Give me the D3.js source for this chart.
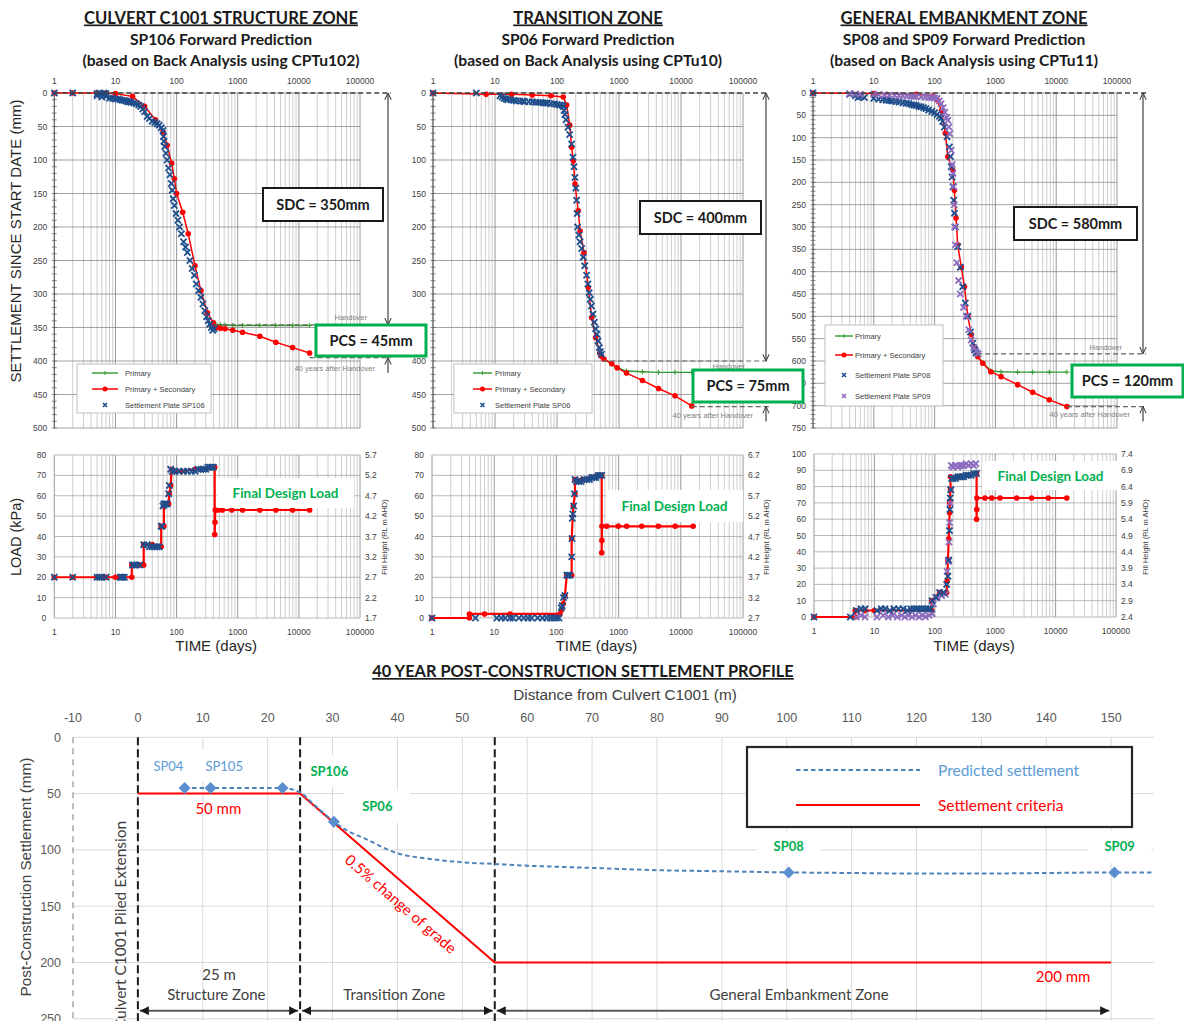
<!DOCTYPE html>
<html lang="en">
<head>
<meta charset="utf-8" />
<title>Settlement forward predictions and 40 year post-construction profile</title>
<script src="https://d3js.org/d3.v7.min.js"></script>
<style>
  body { margin: 0; background: #fff; }
  svg  { display: block; font-family: "Liberation Sans", Arial, sans-serif; }
  .head   { font-family: Lato, "Open Sans", sans-serif; font-weight: 700; fill: #1a1a1a; text-anchor: middle; }
  .tick   { font-size: 8.5px; fill: #404040; }
  .note   { font-size: 7.5px; fill: #7f7f7f; }
  .leg    { font-size: 7.5px; fill: #404040; }
  .cal    { font-family: Lato, "Open Sans", sans-serif; }
</style>
</head>
<body>
<svg id="chart" width="1184" height="1021"></svg>

<script>
/* ---------------- data ---------------- */
const timeTicks    = [1, 10, 100, 1000, 10000, 100000];
const settleTicks5 = [0, 50, 100, 150, 200, 250, 300, 350, 400, 450, 500];
const settleTicks7 = [0, 50, 100, 150, 200, 250, 300, 350, 400, 450, 500, 550, 600, 650, 700, 750];
const loadTicks80  = [0, 10, 20, 30, 40, 50, 60, 70, 80];
const loadTicks100 = [0, 10, 20, 30, 40, 50, 60, 70, 80, 90, 100];
const fillTicksA   = [1.7, 2.2, 2.7, 3.2, 3.7, 4.2, 4.7, 5.2, 5.7];
const fillTicksB   = [2.7, 3.2, 3.7, 4.2, 4.7, 5.2, 5.7, 6.2, 6.7];
const fillTicksC   = [2.4, 2.9, 3.4, 3.9, 4.4, 4.9, 5.4, 5.9, 6.4, 6.9, 7.4];

// [day, settlement mm]
const sp106PrimSec = [[1,0],[2,0],[5,0],[7,0],[10,1],[19,5],[30,20],[45,40],[60,58],[70,78],[83,105],[92,128],[100,150],[126,178],[155,210],[200,258],[250,295],[320,328],[400,343],[420,350],[460,350],[520,351],[620,352],[830,354],[1200,357],[2300,363],[4200,372],[7900,380],[15000,388]];
const sp106Primary = [[420,346],[460,346],[520,346],[620,346],[830,347],[1200,347],[2300,347],[4200,347],[7900,347],[15000,347]];
const sp106Plate   = [[1,0],[2,0],[5,1],[5.5,0],[6,2],[6.5,0],[7,1],[5,4],[6,6],[7,5],[8,8],[9,8],[10,9],[11,9],[12,10],[13,11],[14,11],[15,12],[16,13],[17,13],[18,14],[20,15],[22,16],[24,18],[26,20],[28,24],[30,28],[33,35],[36,38],[40,42],[44,44],[48,46],[52,48],[56,52],[60,56],[61,65],[62,72],[64,80],[67,90],[70,100],[74,112],[78,122],[82,135],[85,145],[88,158],[92,168],[98,180],[105,190],[112,200],[120,210],[130,222],[140,230],[150,238],[165,250],[180,262],[195,272],[210,285],[230,295],[250,305],[270,315],[290,325],[310,334],[330,340],[350,345],[370,350],[390,354],[410,352]];

const sp06PrimSec = [[1,0],[7.2,2],[18.6,2],[40,3],[80,4],[126,6],[143,18],[160,48],[172,81],[183,101],[195,136],[220,176],[236,206],[272,238],[320,290],[362,335],[420,365],[490,388],[520,393],[570,397],[765,404],[935,410],[1320,418],[2390,429],[4340,441],[8000,452],[14900,467]];
const sp06Primary = [[520,393],[570,397],[765,405],[935,410],[1320,415],[2390,416],[4340,417],[8000,417],[14900,417]];
const sp06Plate   = [[1,0],[5,0],[12,4],[13,6],[14,8],[15,9],[16,10],[18,10],[20,11],[22,12],[25,12],[28,12],[30,13],[35,13],[40,13],[45,14],[50,14],[55,14],[60,15],[65,15],[70,15],[80,16],[90,16],[100,17],[110,18],[120,18],[126,20],[130,26],[134,32],[140,40],[150,51],[160,62],[172,76],[181,96],[188,110],[195,126],[201,142],[207,160],[211,180],[215,200],[225,212],[235,222],[250,232],[265,245],[280,258],[300,272],[315,285],[330,298],[345,308],[360,318],[380,330],[400,342],[420,352],[440,360],[460,370],[480,380],[500,386],[520,390]];

const sp08PrimSec = [[1,0],[10,1],[50,3],[94,7],[110,15],[130,40],[150,90],[165,143],[199,173],[212,218],[225,280],[240,340],[275,390],[310,434],[352,500],[400,540],[450,568],[510,590],[620,605],[840,624],[1240,635],[2320,653],[4100,670],[7700,687],[15000,702]];
const sp08Primary = [[510,590],[620,604],[840,622],[1240,624],[2320,625],[4100,625],[7700,625],[15000,625]];
const sp08Plate   = [[1,0],[4,3],[5,6],[6,8],[7,10],[5.5,10],[10,12],[12,14],[14,15],[16,16],[18,17],[20,18],[23,19],[26,20],[30,22],[34,23],[38,24],[42,26],[46,27],[50,28],[55,30],[60,31],[66,33],[72,35],[80,38],[90,41],[100,44],[110,48],[120,52],[128,56],[136,64],[145,76],[160,98],[175,121],[182,142],[188,165],[194,188],[200,210],[206,240],[212,269],[220,300],[240,344],[265,390],[290,434],[320,470],[352,500],[390,535],[425,560],[455,575],[480,582]];
const sp09Plate   = [[4,1],[5,2],[6,3],[10,3],[12,4],[15,4],[18,5],[22,5],[26,6],[30,6],[35,7],[40,7],[45,8],[50,8],[60,9],[70,9],[80,10],[90,10],[100,11],[110,12],[120,18],[128,24],[138,33],[148,43],[158,55],[165,61],[172,76],[178,91],[188,128],[195,160],[200,180],[206,210],[210,250],[214,300],[220,340],[232,380],[248,420],[265,450],[300,480],[330,500],[365,530],[400,553],[440,570],[480,578],[520,584]];

// [day, kPa]
const sp106LoadRed   = [[1,20],[2,20],[5,20],[6,20],[7,20],[10,20],[12,20],[13,20],[18.5,20],[18.5,26],[22,26],[25,26],[29,26],[29,36],[40,36],[50,35],[56,35],[56,45],[62,45],[62,55],[70,56],[74,56],[76,61],[80,65],[83,73],[90,72],[120,72],[200,73],[300,73],[400,74],[420,74],[420,41],[425,47],[430,53],[480,53],[560,53],[800,53],[1200,53],[2300,53],[4200,53],[7900,53],[15000,53]];
const sp106LoadPlate = [[1,20],[2,20],[5,20],[5.5,20],[6,20],[7,20],[12,20],[12.5,20],[13,20],[14,20],[19,26],[20,26],[22,26],[25,26],[29,36],[33,36],[36,35],[40,35],[44,35],[48,35],[52,35],[56,45],[58,45],[60,55],[62,56],[64,56],[66,56],[70,56],[74,61],[76,65],[80,73],[85,72],[95,72],[110,72],[130,72],[150,72],[175,72],[200,72],[225,73],[250,73],[275,73],[300,73],[325,74],[350,74],[375,74],[400,74]];
const sp06LoadRed    = [[1,0],[4,0],[4,2],[7,2],[18,2],[114,2],[121,4],[129,7],[137,11],[147,21],[176,21],[176,39],[187,55],[199,61],[199,68],[260,68],[360,69],[460,70],[535,70],[535,32],[538,38],[540,45],[645,45],[990,45],[1350,45],[2350,45],[4350,45],[8100,45],[15800,45]];
const sp06LoadPlate  = [[1,0],[5,0],[11,0],[13,0],[15,0],[18,0],[20,0],[25,0],[30,0],[35,0],[40,0],[50,0],[60,0],[70,0],[80,0],[90,0],[100,0],[110,0],[120,5],[124,6],[130,10],[137,11],[147,21],[155,21],[165,21],[176,30],[178,39],[180,49],[184,51],[190,55],[195,61],[199,68],[210,67],[230,67],[250,67],[280,68],[310,68],[340,68],[370,69],[400,69],[430,69],[470,70],[510,70],[535,70]];
const sp08LoadRed    = [[1,0],[4.8,0],[4.8,4],[7,4],[10,4],[89,4],[89,10],[120,15],[157,15],[160,22],[165,35],[170,48],[176,64],[176,70],[182,78],[182,86],[250,86],[350,87],[492,88],[492,60],[495,66],[497,73],[676,73],[876,73],[1200,73],[2270,73],[4000,73],[7580,73],[15300,73]];
const sp08LoadPlate  = [[1,0],[4,0],[5,4],[6,5],[7,5],[11,4],[13,5],[15,5],[18,4],[21,5],[25,5],[30,5],[35,4],[40,5],[45,5],[50,5],[55,5],[62,5],[70,5],[78,5],[86,5],[90,10],[105,12],[120,15],[140,15],[157,20],[165,25],[170,35],[175,53],[178,66],[180,73],[184,78],[190,85],[200,85],[220,85],[240,86],[260,86],[280,86],[300,86],[330,87],[360,87],[400,87],[440,88],[490,88]];
const sp09LoadPlate  = [[5,0],[6,1],[7,0],[11,0],[14,1],[17,0],[20,1],[24,0],[28,1],[32,0],[37,1],[42,0],[48,1],[55,0],[62,1],[70,0],[80,1],[90,2],[95,8],[110,12],[130,13],[150,14],[160,28],[168,34],[172,46],[176,58],[180,70],[184,78],[188,93],[200,92],[220,93],[240,92],[260,93],[280,93],[300,93],[330,94],[360,93],[400,94],[440,93],[480,94]];

// handover and 40-years-after-handover levels per zone [day, mm]
const handover  = [[420, 346], [535, 400], [500, 584]];
const fortyYear = [[15000, 395], [14900, 468], [15000, 702]];

// profile: [distance m, settlement mm]
const distTicks    = [-10, 0, 10, 20, 30, 40, 50, 60, 70, 80, 90, 100, 110, 120, 130, 140, 150];
const profileTicks = [0, 50, 100, 150, 200, 250];
const criteria     = [[0,50],[25,50],[55,200],[150,200]];
const predicted    = [[7.2,45],[11.2,45],[22.3,45],[25,49],[27,59],[30.2,75],[32,82],[35,90],[40,103],[45,108],[50,111],[55,112.5],[60,114],[70,116],[80,118],[90,119],[100.3,120],[110,120.5],[120,121],[130,121],[140,120.5],[150.5,120],[156.6,120]];
const plates       = [[7.2,45],[11.2,45],[22.3,45],[30.2,75],[100.3,120],[150.5,120]];
const zoneBounds   = [0, 25, 55];
const zoneSpans    = [[0,25],[25,55],[55,150]];

/* ---------------- setup ---------------- */
const svg  = d3.select("#chart");
const defs = svg.append("defs");
const base = svg.append("g");
const over = svg.append("g");

defs.append("marker").attr("id", "openArrow")
    .attr("viewBox", "0 0 10 10").attr("refX", 9.5).attr("refY", 5)
    .attr("markerUnits", "userSpaceOnUse").attr("markerWidth", 8).attr("markerHeight", 8)
    .attr("orient", "auto-start-reverse")
  .append("path").attr("d", "M1,1L9.5,5L1,9").attr("fill", "none")
    .attr("stroke", "#404040").attr("stroke-width", 1.3);

defs.append("marker").attr("id", "solidArrow")
    .attr("viewBox", "0 0 10 10").attr("refX", 10).attr("refY", 5)
    .attr("markerUnits", "userSpaceOnUse").attr("markerWidth", 9).attr("markerHeight", 9)
    .attr("orient", "auto-start-reverse")
  .append("path").attr("d", "M0,0L10,5L0,10Z").attr("fill", "#1a1a1a");

const RED = "#ff0000", GREEN = "#2f9a2f", BLUE = "#1f4e8c", PURPLE = "#8d6cc0";

function xPath(r) { return `M${-r},${-r}L${r},${r}M${r},${-r}L${-r},${r}`; }

function logGrid(g, x, yTop, yBot) {
  g.append("g").selectAll("line").data(x.ticks()).join("line")
    .attr("x1", d => x(d)).attr("x2", d => x(d))
    .attr("y1", yTop).attr("y2", yBot)
    .attr("stroke", d => timeTicks.includes(d) ? "#8c8c8c" : "#b8b8b8")
    .attr("stroke-width", d => timeTicks.includes(d) ? 0.9 : 0.7);
}

function drawSeries(g, x, y, p) {
  const line = d3.line().x(d => x(d[0])).y(d => y(d[1]));
  if (p.primary) {
    g.append("path").attr("d", line(p.primary)).attr("fill", "none")
      .attr("stroke", GREEN).attr("stroke-width", 1.4);
    g.append("g").selectAll("path").data(p.primary).join("path")
      .attr("transform", d => `translate(${x(d[0])},${y(d[1])})`)
      .attr("d", "M0,-2.5V2.5M-2.5,0H2.5").attr("stroke", GREEN).attr("stroke-width", 1);
  }
  g.append("path").attr("d", line(p.red)).attr("fill", "none")
    .attr("stroke", RED).attr("stroke-width", p.redW || 1.5);
  g.append("g").selectAll("circle").data(p.red).join("circle")
    .attr("cx", d => x(d[0])).attr("cy", d => y(d[1])).attr("r", 2.8).attr("fill", RED);
  p.plates.forEach(pl => {
    g.append("g").selectAll("path").data(pl.pts).join("path")
      .attr("transform", d => `translate(${x(d[0])},${y(d[1])})`)
      .attr("d", xPath(3.1)).attr("stroke", pl.color).attr("stroke-width", 1.8).attr("fill", "none");
  });
}

/* ---------------- settlement panels ---------------- */
const topPanels = [
  { x0: 54.3, x1: 360, sMax: 500, sTicks: settleTicks5, cx: 221, arrowX: 388,
    red: sp106PrimSec, primary: sp106Primary, hand: handover[0], end: fortyYear[0],
    plates: [{ pts: sp106Plate, color: BLUE, label: "Settlement Plate SP106" }],
    title: ["CULVERT C1001 STRUCTURE ZONE", "SP106 Forward Prediction", "(based on Back Analysis using CPTu102)"],
    sdc: { x: 263, y: 188, w: 120, h: 33, text: "SDC = 350mm" },
    pcs: { x: 316, y: 325, w: 110, h: 31, text: "PCS = 45mm" },
    hoDy: -5, eyDy: 13,
    legend: { x: 77, y: 364, w: 134, h: 49, lx0: 15, lx1: 41, tx: 48, rows: [9, 25, 41] } },
  { x0: 433, x1: 743, sMax: 500, sTicks: settleTicks5, cx: 588, arrowX: 766,
    red: sp06PrimSec, primary: sp06Primary, hand: handover[1], end: fortyYear[1],
    plates: [{ pts: sp06Plate, color: BLUE, label: "Settlement Plate SP06" }],
    title: ["TRANSITION ZONE", "SP06 Forward Prediction", "(based on Back Analysis using CPTu10)"],
    sdc: { x: 640, y: 201, w: 121, h: 33, text: "SDC = 400mm" },
    pcs: { x: 693, y: 370, w: 110, h: 32, text: "PCS = 75mm" },
    hoDy: 8, eyDy: 11,
    legend: { x: 454, y: 364, w: 138, h: 49, lx0: 19, lx1: 38, tx: 41, rows: [9, 25, 41] } },
  { x0: 813, x1: 1117, sMax: 750, sTicks: settleTicks7, cx: 964, arrowX: 1143,
    red: sp08PrimSec, primary: sp08Primary, hand: handover[2], end: fortyYear[2],
    plates: [{ pts: sp08Plate, color: BLUE, label: "Settlement Plate SP08" },
             { pts: sp09Plate, color: PURPLE, label: "Settlement Plate SP09" }],
    title: ["GENERAL EMBANKMENT ZONE", "SP08 and SP09 Forward Prediction", "(based on Back Analysis using CPTu11)"],
    sdc: { x: 1014, y: 207, w: 123, h: 33, text: "SDC = 580mm" },
    pcs: { x: 1072, y: 365, w: 111, h: 32, text: "PCS = 120mm" },
    hoDy: -4, eyDy: 10,
    legend: { x: 825, y: 325, w: 118, h: 81, lx0: 10, lx1: 28, tx: 30, rows: [11, 30, 50, 71] } }
];

topPanels.forEach(p => {
  const x = d3.scaleLog().domain([1, 100000]).range([p.x0, p.x1]);
  const y = d3.scaleLinear().domain([0, p.sMax]).range([93, 428]);
  const g = base.append("g");

  // headings
  g.append("text").attr("class", "head").attr("x", p.cx).attr("y", 23.5)
    .attr("font-size", 16.6).style("text-decoration", "underline").text(p.title[0]);
  g.append("text").attr("class", "head").attr("x", p.cx).attr("y", 44.5)
    .attr("font-size", 15.6).text(p.title[1]);
  g.append("text").attr("class", "head").attr("x", p.cx).attr("y", 66)
    .attr("font-size", 15.6).text(p.title[2]);

  logGrid(g, x, 93, 428);
  g.append("g").selectAll("line").data(p.sTicks).join("line")
    .attr("x1", p.x0).attr("x2", p.x1).attr("y1", d => y(d)).attr("y2", d => y(d))
    .attr("stroke", "#8c8c8c").attr("stroke-width", 0.8);
  g.append("line").attr("x1", p.x0).attr("x2", p.x0).attr("y1", 93).attr("y2", 428)
    .attr("stroke", "#595959").attr("stroke-width", 1);
  g.append("g").selectAll("line").data(y.ticks(p.sMax / 10)).join("line")
    .attr("x1", p.x0 - 2.5).attr("x2", p.x0 + 2.5).attr("y1", d => y(d)).attr("y2", d => y(d))
    .attr("stroke", "#595959").attr("stroke-width", 0.7);

  g.append("g").selectAll("text").data(timeTicks).join("text").attr("class", "tick")
    .attr("x", d => x(d)).attr("y", 84).attr("text-anchor", "middle").text(d => d);
  g.append("g").selectAll("text").data(p.sTicks).join("text").attr("class", "tick")
    .attr("x", p.x0 - 7).attr("y", d => y(d) + 3).attr("text-anchor", "end").text(d => d);

  drawSeries(g, x, y, p);

  // dimension lines
  const yH = y(p.hand[1]), yE = y(p.end[1]);
  g.append("line").attr("x1", p.x0).attr("x2", p.arrowX + 3).attr("y1", y(0)).attr("y2", y(0))
    .attr("stroke", "#404040").attr("stroke-width", 1.3).attr("stroke-dasharray", "5 3");
  g.append("line").attr("x1", x(p.hand[0])).attr("x2", p.arrowX + 3).attr("y1", yH).attr("y2", yH)
    .attr("stroke", "#666").attr("stroke-width", 1.2).attr("stroke-dasharray", "5 3");
  g.append("line").attr("x1", x(p.end[0])).attr("x2", p.arrowX + 3).attr("y1", yE).attr("y2", yE)
    .attr("stroke", "#666").attr("stroke-width", 1.2).attr("stroke-dasharray", "5 3");
  g.append("text").attr("class", "note").attr("x", p.arrowX - 21).attr("y", yH + p.hoDy)
    .attr("text-anchor", "end").text("Handover");
  g.append("text").attr("class", "note").attr("x", p.arrowX - 13).attr("y", yE + p.eyDy)
    .attr("text-anchor", "end").text("40 years after Handover");

  // boxes, arrows, legend on top
  const o = over.append("g");
  o.append("line").attr("x1", p.arrowX).attr("x2", p.arrowX).attr("y1", y(0)).attr("y2", yH)
    .attr("stroke", "#404040").attr("stroke-width", 1.2)
    .attr("marker-start", "url(#openArrow)").attr("marker-end", "url(#openArrow)");
  o.append("line").attr("x1", p.arrowX).attr("x2", p.arrowX).attr("y1", yE + 15).attr("y2", yE)
    .attr("stroke", "#404040").attr("stroke-width", 1.2).attr("marker-end", "url(#openArrow)");

  [[p.sdc, "#1a1a1a", 2], [p.pcs, "#00b050", 3]].forEach(([b, col, w]) => {
    o.append("rect").attr("x", b.x).attr("y", b.y).attr("width", b.w).attr("height", b.h)
      .attr("fill", "#fff").attr("stroke", col).attr("stroke-width", w);
    o.append("text").attr("class", "head").attr("x", b.x + b.w / 2).attr("y", b.y + b.h / 2 + 5)
      .attr("font-size", 14.5).text(b.text);
  });

  const L = p.legend;
  o.append("rect").attr("x", L.x).attr("y", L.y).attr("width", L.w).attr("height", L.h)
    .attr("fill", "#fff").attr("stroke", "#bfbfbf").attr("stroke-width", 1);
  const rows = [{ k: "prim", t: "Primary" }, { k: "red", t: "Primary + Secondary" }]
    .concat(p.plates.map(pl => ({ k: "plate", t: pl.label, c: pl.color })));
  rows.forEach((r, i) => {
    const yy = L.y + L.rows[i], xa = L.x + L.lx0, xb = L.x + L.lx1, xm = (xa + xb) / 2;
    if (r.k === "prim") {
      o.append("line").attr("x1", xa).attr("x2", xb).attr("y1", yy).attr("y2", yy).attr("stroke", GREEN).attr("stroke-width", 1.4);
      o.append("path").attr("transform", `translate(${xm},${yy})`).attr("d", "M0,-2V2").attr("stroke", GREEN);
    } else if (r.k === "red") {
      o.append("line").attr("x1", xa).attr("x2", xb).attr("y1", yy).attr("y2", yy).attr("stroke", RED).attr("stroke-width", 1.5);
      o.append("circle").attr("cx", xm).attr("cy", yy).attr("r", 2.5).attr("fill", RED);
    } else {
      o.append("path").attr("transform", `translate(${xm},${yy})`).attr("d", xPath(2))
        .attr("stroke", r.c).attr("stroke-width", 1.6);
    }
    o.append("text").attr("class", "leg").attr("x", L.x + L.tx).attr("y", yy + 2.7).text(r.t);
  });
});

base.append("text").attr("transform", "translate(21,241) rotate(-90)")
  .attr("text-anchor", "middle").attr("font-size", 15).attr("fill", "#262626")
  .text("SETTLEMENT SINCE START DATE (mm)");

/* ---------------- load panels ---------------- */
const loadPanels = [
  { x0: 54.3, x1: 360, yT: 455, yB: 618, lMax: 80, lTicks: loadTicks80, fTicks: fillTicksA, fillX: 387,
    red: sp106LoadRed, plates: [{ pts: sp106LoadPlate, color: BLUE }], redW: 2.2,
    fdl: { x: 217, y: 478, w: 137, h: 30 } },
  { x0: 432, x1: 743, yT: 455, yB: 618, lMax: 80, lTicks: loadTicks80, fTicks: fillTicksB, fillX: 769,
    red: sp06LoadRed, plates: [{ pts: sp06LoadPlate, color: BLUE }], redW: 2.2,
    fdl: { x: 606, y: 490, w: 137, h: 32 } },
  { x0: 814, x1: 1116, yT: 454, yB: 617, lMax: 100, lTicks: loadTicks100, fTicks: fillTicksC, fillX: 1148,
    red: sp08LoadRed, plates: [{ pts: sp09LoadPlate, color: PURPLE }, { pts: sp08LoadPlate, color: BLUE }], redW: 2.2,
    fdl: { x: 982, y: 461, w: 137, h: 29 } }
];

loadPanels.forEach(p => {
  const x = d3.scaleLog().domain([1, 100000]).range([p.x0, p.x1]);
  const y = d3.scaleLinear().domain([0, p.lMax]).range([p.yB, p.yT]);
  const yF = d3.scaleLinear().domain([p.fTicks[0], p.fTicks[p.fTicks.length - 1]]).range([p.yB, p.yT]);
  const g = base.append("g");

  logGrid(g, x, p.yT, p.yB);
  g.append("g").selectAll("line").data(p.lTicks).join("line")
    .attr("x1", p.x0).attr("x2", p.x1).attr("y1", d => y(d)).attr("y2", d => y(d))
    .attr("stroke", "#a6a6a6").attr("stroke-width", 0.8);

  g.append("g").selectAll("text").data(timeTicks).join("text").attr("class", "tick")
    .attr("x", d => x(d)).attr("y", p.yB + 17).attr("text-anchor", "middle").text(d => d);
  g.append("g").selectAll("text").data(p.lTicks).join("text").attr("class", "tick")
    .attr("x", p.x0 - 8).attr("y", d => y(d) + 3).attr("text-anchor", "end").text(d => d);
  g.append("g").selectAll("text").data(p.fTicks).join("text").attr("class", "tick")
    .attr("x", p.x1 + 5).attr("y", d => yF(d) + 3).text(d => d.toFixed(1));

  g.append("text").attr("transform", `translate(${p.fillX},537) rotate(-90)`)
    .attr("text-anchor", "middle").attr("font-size", 7.5).attr("fill", "#404040")
    .text("Fill Height (RL m AHD)");
  g.append("text").attr("x", (p.x0 + p.x1) / 2 + 9).attr("y", 651).attr("text-anchor", "middle")
    .attr("font-size", 15).attr("fill", "#262626").text("TIME (days)");

  drawSeries(g, x, y, p);

  g.append("rect").attr("x", p.fdl.x).attr("y", p.fdl.y).attr("width", p.fdl.w).attr("height", p.fdl.h).attr("fill", "#fff");
  g.append("text").attr("class", "head").attr("x", p.fdl.x + p.fdl.w / 2).attr("y", p.fdl.y + p.fdl.h / 2 + 5)
    .attr("font-size", 13.5).style("fill", "#00b050").text("Final Design Load");
});

base.append("text").attr("transform", "translate(21,537) rotate(-90)")
  .attr("text-anchor", "middle").attr("font-size", 14.5).attr("fill", "#262626").text("LOAD (kPa)");

/* ---------------- 40 year profile ---------------- */
const xD = d3.scaleLinear().domain([-10, 156.6]).range([73, 1154]);
const yD = d3.scaleLinear().domain([0, 250]).range([737.3, 1018.8]);
const pg = base.append("g");

pg.append("text").attr("class", "head").attr("x", 583).attr("y", 677).attr("font-size", 16.4)
  .style("text-decoration", "underline").text("40 YEAR POST-CONSTRUCTION SETTLEMENT PROFILE");
pg.append("text").attr("x", 625).attr("y", 700).attr("text-anchor", "middle")
  .attr("font-size", 15.3).attr("fill", "#404040").text("Distance from Culvert C1001 (m)");

pg.append("g").selectAll("line").data(distTicks.slice(1)).join("line")
  .attr("x1", d => xD(d)).attr("x2", d => xD(d)).attr("y1", yD(0)).attr("y2", 1021)
  .attr("stroke", "#d9d9d9").attr("stroke-width", 1);
pg.append("g").selectAll("line").data(profileTicks).join("line")
  .attr("x1", xD(-10)).attr("x2", 1154).attr("y1", d => yD(d)).attr("y2", d => yD(d))
  .attr("stroke", "#d9d9d9").attr("stroke-width", 1);
pg.append("line").attr("x1", xD(-10)).attr("x2", xD(-10)).attr("y1", yD(0)).attr("y2", 1021)
  .attr("stroke", "#a6a6a6").attr("stroke-width", 1.5).attr("stroke-dasharray", "6 5");

pg.append("g").selectAll("text").data(distTicks).join("text")
  .attr("x", d => xD(d)).attr("y", 722).attr("text-anchor", "middle")
  .attr("font-size", 12.5).attr("fill", "#595959").text(d => d);
pg.append("g").selectAll("text").data(profileTicks).join("text")
  .attr("x", 61).attr("y", d => yD(d) + 4.5).attr("text-anchor", "end")
  .attr("font-size", 12.5).attr("fill", "#595959").text(d => d);
pg.append("text").attr("transform", "translate(31,877) rotate(-90)").attr("text-anchor", "middle")
  .attr("font-size", 15.3).attr("fill", "#404040").text("Post-Construction Settlement (mm)");

// white label backgrounds
const spLabels = [
  { t: "SP04",  d: 4.7,   s: 25.5, c: "#5b9bd5", b: false, w: 48 },
  { t: "SP105", d: 13.3,  s: 25.5, c: "#5b9bd5", b: false, w: 50 },
  { t: "SP106", d: 29.5,  s: 30,   c: "#00b050", b: true,  w: 52 },
  { t: "SP06",  d: 36.9,  s: 61.6, c: "#00b050", b: true,  w: 66 },
  { t: "SP08",  d: 100.3, s: 97.4, c: "#00b050", b: true,  w: 64 },
  { t: "SP09",  d: 151.3, s: 97.4, c: "#00b050", b: true,  w: 64 }
];
spLabels.forEach(l => {
  pg.append("rect").attr("x", xD(l.d) - l.w / 2).attr("y", yD(l.s) - 16).attr("width", l.w).attr("height", 32).attr("fill", "#fff");
});

pg.append("g").selectAll("line").data(zoneBounds).join("line")
  .attr("x1", d => xD(d)).attr("x2", d => xD(d)).attr("y1", yD(0)).attr("y2", 1021)
  .attr("stroke", "#1a1a1a").attr("stroke-width", 2).attr("stroke-dasharray", "8 4");

pg.append("path").attr("d", d3.line().x(d => xD(d[0])).y(d => yD(d[1]))(criteria))
  .attr("fill", "none").attr("stroke", RED).attr("stroke-width", 2);
pg.append("path").attr("d", d3.line().curve(d3.curveMonotoneX).x(d => xD(d[0])).y(d => yD(d[1]))(predicted))
  .attr("fill", "none").attr("stroke", "#4f81bd").attr("stroke-width", 2).attr("stroke-dasharray", "4.5 3");
pg.append("g").selectAll("path").data(plates).join("path")
  .attr("transform", d => `translate(${xD(d[0])},${yD(d[1])})`)
  .attr("d", "M0,-6L6,0L0,6L-6,0Z").attr("fill", "#5b8fd0");

spLabels.forEach(l => {
  pg.append("text").attr("class", "cal").attr("x", xD(l.d)).attr("y", yD(l.s) + 4.5)
    .attr("text-anchor", "middle").attr("font-size", 13).attr("font-weight", l.b ? 700 : 400)
    .attr("fill", l.c).text(l.t);
});

const calText = (t, x, y, size, col, anchor) => pg.append("text").attr("class", "cal")
  .attr("x", x).attr("y", y).attr("font-size", size).attr("fill", col)
  .attr("text-anchor", anchor || "middle").text(t);

calText("50 mm", xD(12.4), yD(68.5), 15, RED);
calText("200 mm", xD(142.6), yD(217.3), 15, RED);
calText("25 m", xD(12.5), yD(215.5), 15, "#404040");
calText("Structure Zone", xD(12.1), yD(233.3), 15, "#404040");
calText("Transition Zone", xD(39.5), yD(233.3), 15, "#404040");
calText("General Embankment Zone", xD(101.9), yD(233.3), 15, "#404040");
pg.append("text").attr("class", "cal")
  .attr("transform", `translate(${xD(40.5)},${yD(148)}) rotate(41)`)
  .attr("text-anchor", "middle").attr("dy", "0.35em").attr("font-size", 15).attr("fill", RED)
  .text("0.5% change of grade");
pg.append("text").attr("class", "cal")
  .attr("transform", `translate(${xD(-2.6)},925) rotate(-90)`)
  .attr("text-anchor", "middle").attr("dy", "0.35em").attr("font-size", 15.5).attr("fill", "#404040")
  .text("Culvert C1001 Piled Extension");

pg.append("g").selectAll("line").data(zoneSpans).join("line")
  .attr("x1", d => xD(d[0]) + 2).attr("x2", d => xD(d[1]) - 2).attr("y1", 1010.7).attr("y2", 1010.7)
  .attr("stroke", "#595959").attr("stroke-width", 2)
  .attr("marker-start", "url(#solidArrow)").attr("marker-end", "url(#solidArrow)");

// legend
const lg = over.append("g");
lg.append("rect").attr("x", 747).attr("y", 747).attr("width", 385).attr("height", 80)
  .attr("fill", "#fff").attr("stroke", "#262626").attr("stroke-width", 2.2);
lg.append("line").attr("x1", 796).attr("x2", 920).attr("y1", 770).attr("y2", 770)
  .attr("stroke", "#4f81bd").attr("stroke-width", 2).attr("stroke-dasharray", "4.5 3");
lg.append("line").attr("x1", 796).attr("x2", 920).attr("y1", 805).attr("y2", 805)
  .attr("stroke", RED).attr("stroke-width", 2);
lg.append("text").attr("class", "cal").attr("x", 938).attr("y", 775.5).attr("font-size", 15.5)
  .attr("fill", "#5b9bd5").text("Predicted settlement");
lg.append("text").attr("class", "cal").attr("x", 938).attr("y", 810.5).attr("font-size", 15.5)
  .attr("fill", RED).text("Settlement criteria");
</script>
</body>
</html>
